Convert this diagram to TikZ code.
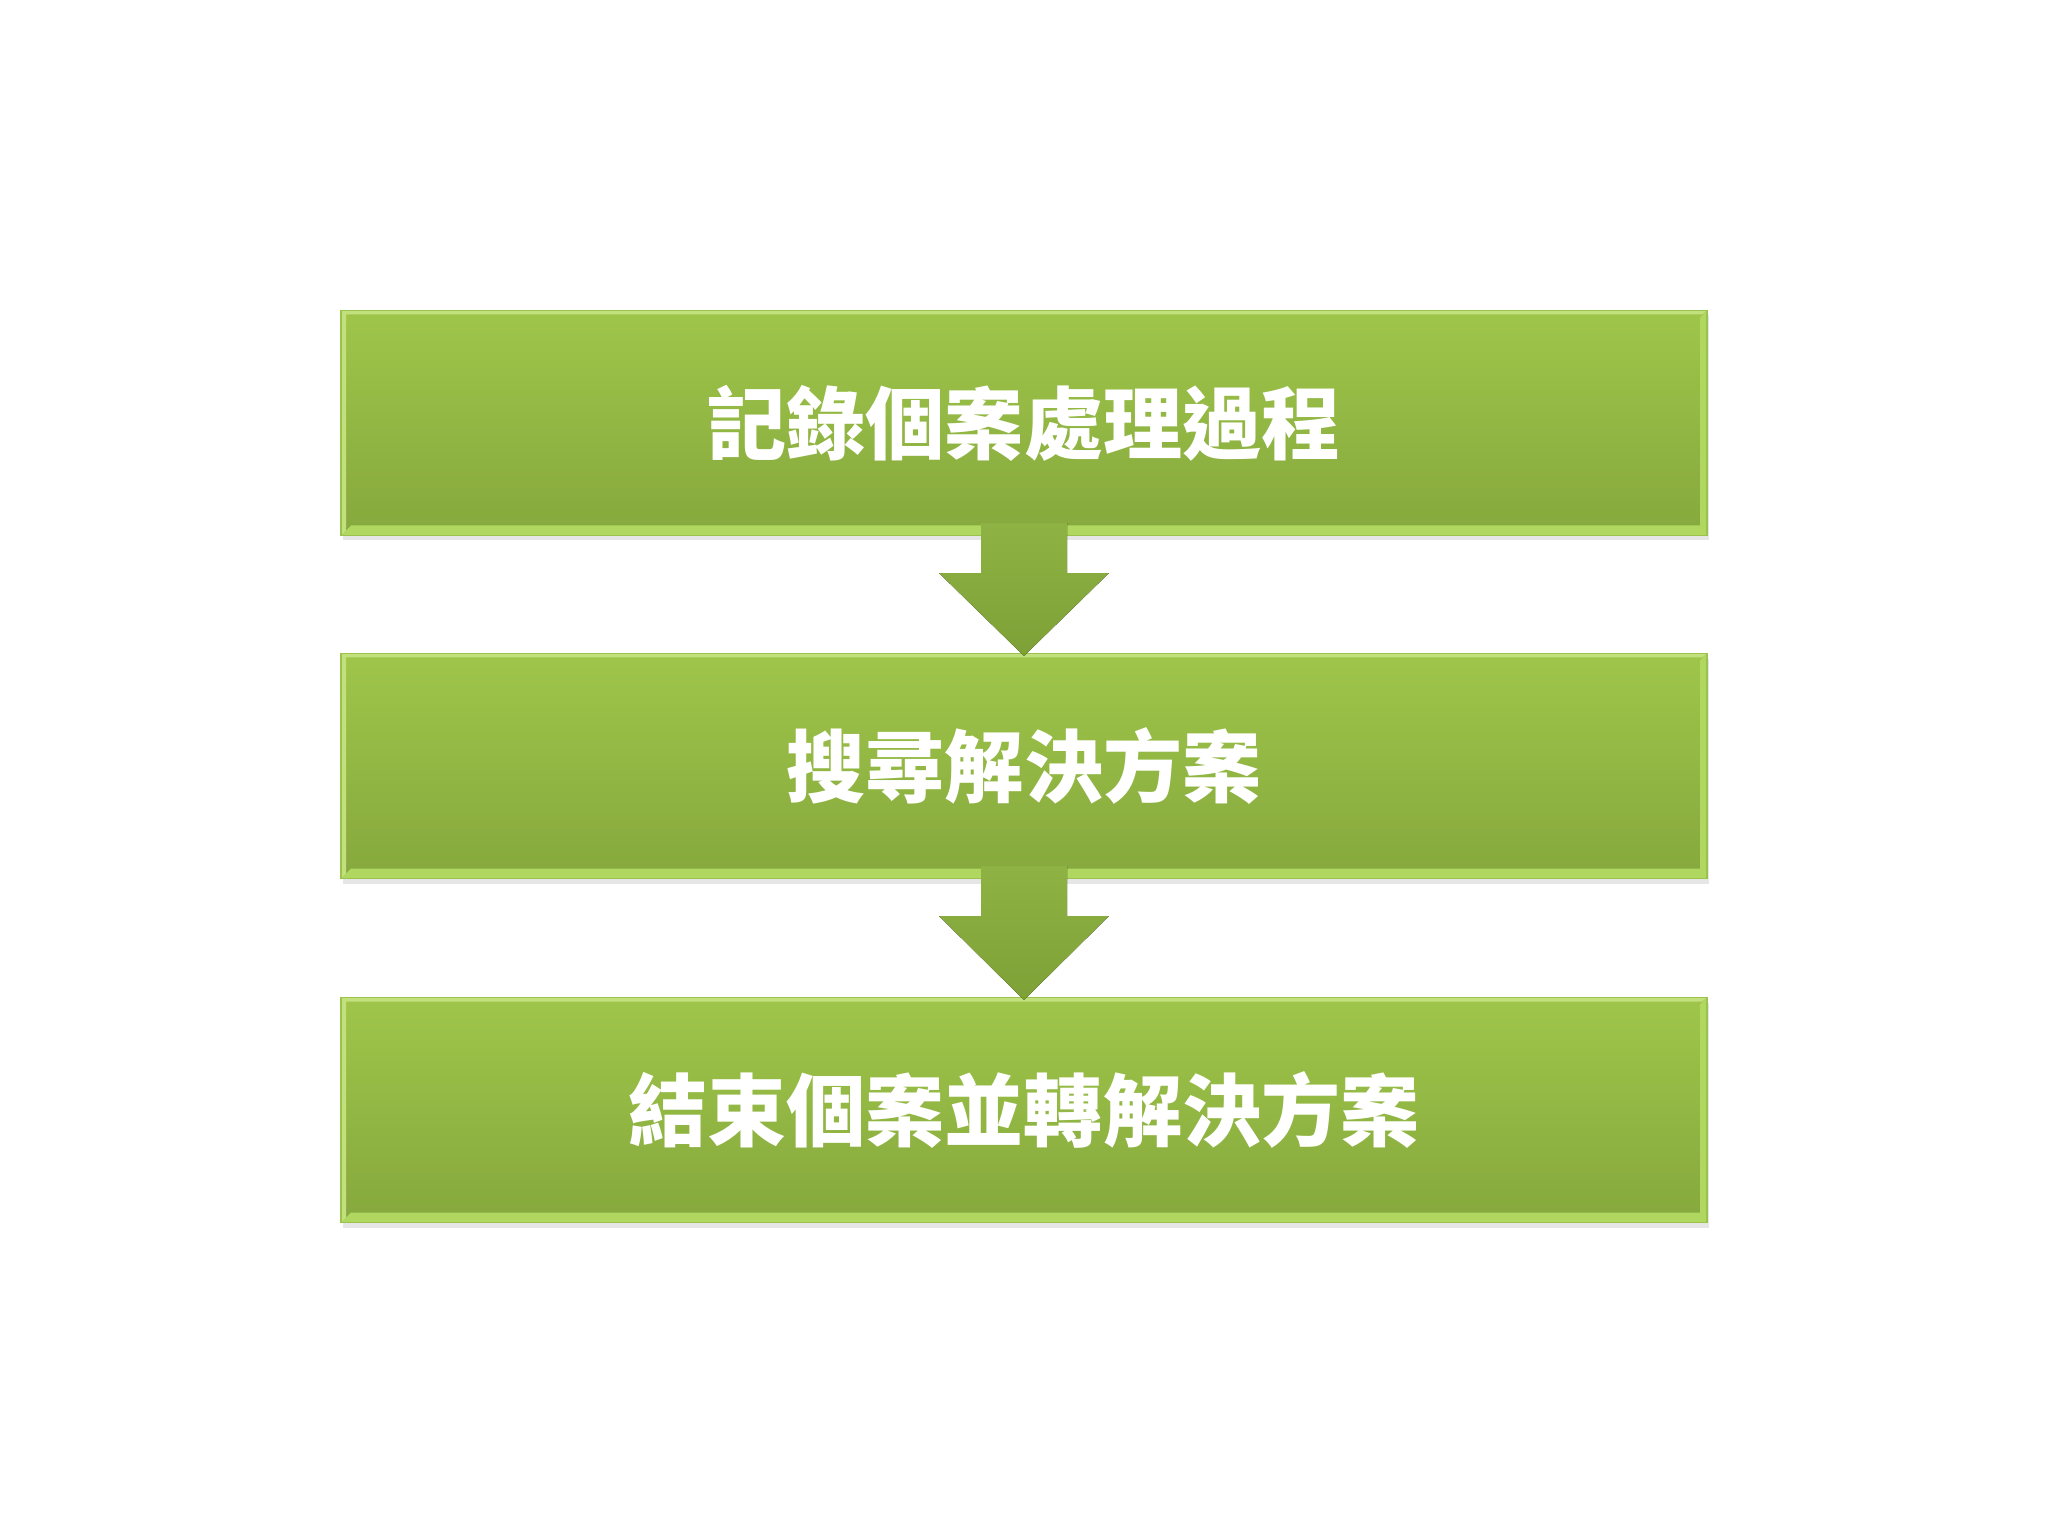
\documentclass[tikz,border=0pt]{standalone}
\usepackage{fontspec}
\newfontfamily\cjk{Noto Sans CJK TC}
\usetikzlibrary{shadows}
\definecolor{boxtop}{HTML}{9FC64A}
\definecolor{boxbot}{HTML}{86A83D}
\definecolor{boxedge}{HTML}{9BC24A}
\definecolor{bevtl}{HTML}{C3E07F}
\definecolor{bevbr}{HTML}{B0D861}
\definecolor{arrtop}{HTML}{8EB243}
\definecolor{arrbot}{HTML}{7EA137}
\begin{document}
\begin{tikzpicture}[
  stepbox/.style={minimum width=13.66cm, minimum height=2.25cm, inner sep=0pt,
    top color=boxtop, bottom color=boxbot, draw=boxedge, line width=0.3pt,
    drop shadow={shadow xshift=0.02cm, shadow yshift=-0.05cm, opacity=0.2},
    text=white, font=\cjk\bfseries\fontsize{22.5}{27}\selectfont,
    path picture={
      \fill[bevtl] (path picture bounding box.south west) -- ++(0.05,0.05)
        |- ([xshift=-0.05cm,yshift=-0.04cm]path picture bounding box.north east)
        -- (path picture bounding box.north east)
        -| (path picture bounding box.south west) -- cycle;
      \fill[bevbr] (path picture bounding box.south west) -- ++(0.1,0.1)
        -| ([xshift=-0.07cm,yshift=-0.07cm]path picture bounding box.north east)
        -- (path picture bounding box.north east)
        |- (path picture bounding box.south west) -- cycle;
    }},
  downarrow/.style={top color=arrtop, bottom color=arrbot, draw=none}]
\useasboundingbox (0,0) rectangle (20.48,-15.36);

\node (rec) at (10.24,-4.23) [stepbox] {記錄個案處理過程};
\node (search) at (10.24,-7.66) [stepbox] {搜尋解決方案};
\node (close) at (10.24,-11.10) [stepbox] {結束個案並轉解決方案};

\fill[downarrow] ([shift={(-0.43,0.13)}]rec.south) -- ([shift={(-0.43,-0.37)}]rec.south)
  -- ([shift={(-0.85,-0.37)}]rec.south) -- ([yshift=-0.03cm]search.north)
  -- ([shift={(0.85,-0.37)}]rec.south) -- ([shift={(0.43,-0.37)}]rec.south)
  -- ([shift={(0.43,0.13)}]rec.south) -- cycle;
\fill[downarrow] ([shift={(-0.43,0.13)}]search.south) -- ([shift={(-0.43,-0.37)}]search.south)
  -- ([shift={(-0.85,-0.37)}]search.south) -- ([yshift=-0.03cm]close.north)
  -- ([shift={(0.85,-0.37)}]search.south) -- ([shift={(0.43,-0.37)}]search.south)
  -- ([shift={(0.43,0.13)}]search.south) -- cycle;
\end{tikzpicture}
\end{document}
